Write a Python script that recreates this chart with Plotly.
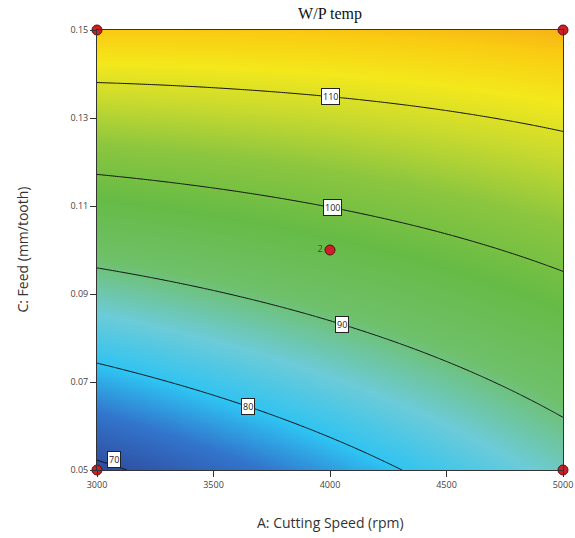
import numpy as np
import plotly.graph_objects as go

# Fitted quadratic response-surface model in coded units
# a = (A - 4000)/1000, c = (C - 0.10)/0.05
coef_names = ["b0", "bA", "bC", "bAC", "bAA", "bCC"]
coef_vals = [96.2, 4.8, 19.45, -3.95, 0.5, 0.5]
model = dict(zip(coef_names, coef_vals))

speed_range = [3000, 5000]
feed_range = [0.05, 0.15]
contour_levels = [70, 80, 90, 100, 110]
label_speeds = [3075, 3650, 4050, 4010, 4000]  # where each contour label sits
label_lift = [6, 0, 0, 0, 0]

design_speed = [3000, 3000, 5000, 5000, 4000]
design_feed = [0.05, 0.15, 0.05, 0.15, 0.10]
design_text = ["", "", "", "", "2"]

x_ticks = [3000, 3500, 4000, 4500, 5000]
y_ticks = [0.05, 0.07, 0.09, 0.11, 0.13, 0.15]
y_ticktext = ["0.05", "0.07", "0.09", "0.11", "0.13", "0.15"]


def response(A, C):
    a = (A - 4000) / 1000
    c = (C - 0.10) / 0.05
    m = model
    return (m["b0"] + m["bA"] * a + m["bC"] * c + m["bAC"] * a * c
            + m["bAA"] * a * a + m["bCC"] * c * c)


def feed_on_level(A, z):
    a = (A - 4000) / 1000
    m = model
    qa = m["bCC"]
    qb = m["bC"] + m["bAC"] * a
    qc = m["b0"] + m["bA"] * a + m["bAA"] * a * a - z
    c = (-qb + np.sqrt(qb * qb - 4 * qa * qc)) / (2 * qa)
    return 0.10 + 0.05 * c


xs = np.linspace(speed_range[0], speed_range[1], 241)
ys = np.linspace(feed_range[0], feed_range[1], 241)
X, Y = np.meshgrid(xs, ys)
Z = response(X, Y)

colorscale = [
    [0.00, "#2f4a9c"],
    [0.12, "#3275cc"],
    [0.22, "#2ec3f2"],
    [0.33, "#6ccbd8"],
    [0.45, "#6fc06a"],
    [0.58, "#66bb46"],
    [0.70, "#8cc63f"],
    [0.80, "#c9da2e"],
    [0.88, "#f3e81c"],
    [0.95, "#f9cd12"],
    [1.00, "#f7ad16"],
]

fig = go.Figure()
fig.add_trace(go.Contour(
    x=xs, y=ys, z=Z,
    colorscale=colorscale, zmin=69, zmax=118,
    showscale=False,
    contours=dict(start=contour_levels[0], end=contour_levels[-1], size=10,
                  coloring="heatmap", showlabels=False),
    line=dict(color="#111111", width=1),
    hoverinfo="skip",
))

fig.add_trace(go.Scatter(
    x=design_speed, y=design_feed, mode="markers+text",
    text=design_text, textposition="middle left",
    textfont=dict(family="Open Sans", size=9, color="#1d5c2a"),
    marker=dict(size=10, color="#cc1f26", line=dict(color="#5a1010", width=1)),
    cliponaxis=False, hoverinfo="skip",
))

for lvl, sp, lift in zip(contour_levels, label_speeds, label_lift):
    fig.add_annotation(
        x=sp, y=feed_on_level(sp, lvl), text=str(lvl), showarrow=False,
        yshift=lift,
        font=dict(family="Open Sans", size=9, color="#222"),
        bgcolor="white", bordercolor="#222", borderwidth=1, borderpad=1,
    )

fig.add_annotation(
    text="A: Cutting Speed (rpm)", xref="paper", yref="paper", x=0.5, y=-0.12,
    xanchor="center", yanchor="middle", showarrow=False,
    font=dict(family="Open Sans", size=14, color="#333"),
)
fig.add_annotation(
    text="C: Feed (mm/tooth)", xref="paper", yref="paper", x=-0.162, y=0.5,
    xanchor="center", yanchor="middle", showarrow=False, textangle=-90,
    font=dict(family="Open Sans", size=14, color="#333"),
)

fig.update_layout(
    width=575, height=538,
    margin=dict(l=97, r=12, t=30, b=68, autoexpand=False),
    paper_bgcolor="white", plot_bgcolor="white",
    showlegend=False,
    title=dict(text="W/P temp", x=0.5, xref="paper", y=0.985, yanchor="top",
               font=dict(family="Liberation Serif", size=16, color="#111")),
)
fig.update_xaxes(
    range=speed_range, tickvals=x_ticks, ticks="outside", ticklen=6,
    tickcolor="#333", showline=True, linecolor="#333", mirror=True,
    showgrid=False, zeroline=False, automargin=False,
    tickfont=dict(family="Open Sans", size=9, color="#444"),
)
fig.update_yaxes(
    range=feed_range, tickvals=y_ticks, ticktext=y_ticktext, ticks="outside",
    ticklen=6, tickcolor="#333", showline=True, linecolor="#333", mirror=True,
    showgrid=False, zeroline=False, automargin=False,
    tickfont=dict(family="Open Sans", size=9, color="#444"),
)

fig.write_html("out.html")
